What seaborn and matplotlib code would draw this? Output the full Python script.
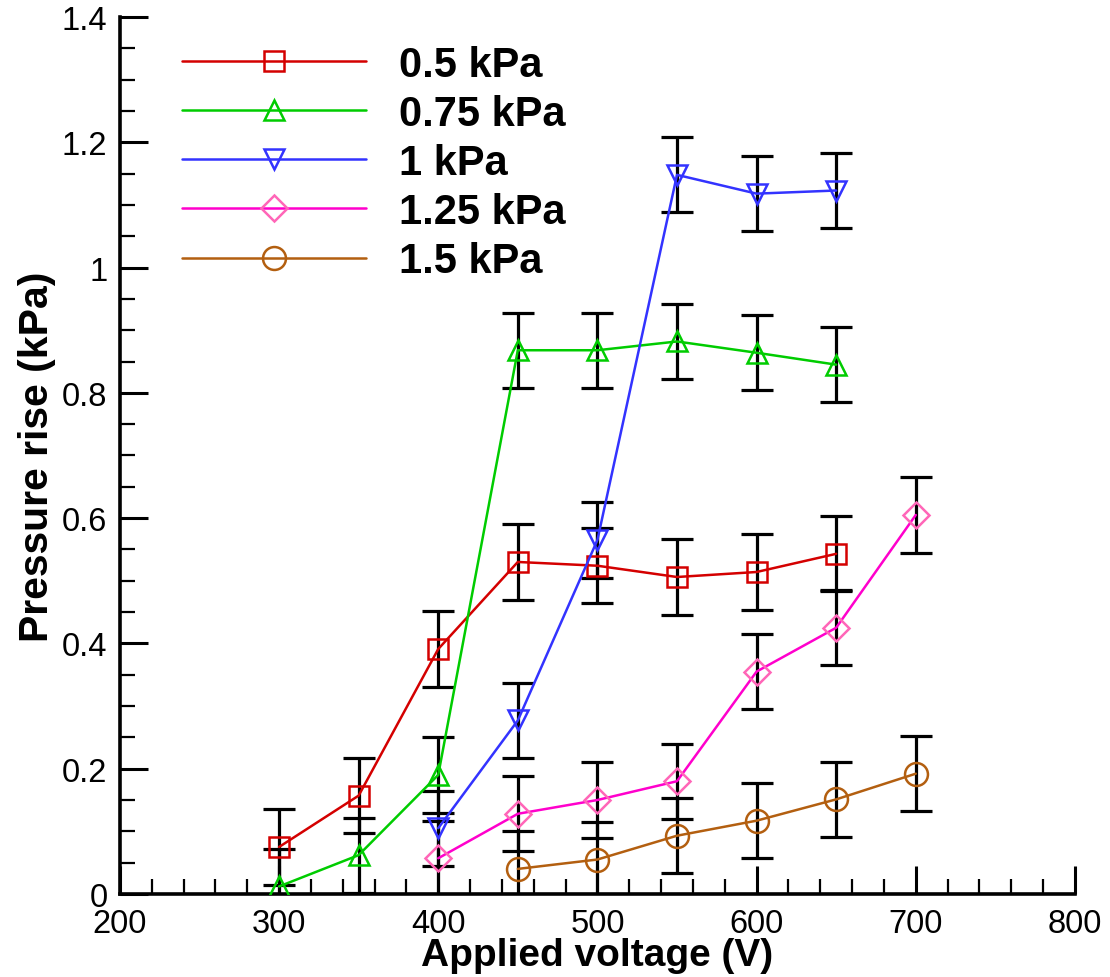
import numpy as np
import pandas as pd
import matplotlib
matplotlib.use("Agg")
import matplotlib.pyplot as plt
from matplotlib.ticker import MultipleLocator
import seaborn as sns

# ---- data ----
labels = ["0.5 kPa", "0.75 kPa", "1 kPa", "1.25 kPa", "1.5 kPa"]

v_05 = [300, 350, 400, 450, 500, 550, 600, 650]
p_05 = [0.075, 0.157, 0.391, 0.530, 0.524, 0.506, 0.514, 0.543]
e_05 = [0.06, 0.06, 0.06, 0.06, 0.06, 0.06, 0.06, 0.06]

v_075 = [300, 350, 400, 450, 500, 550, 600, 650]
p_075 = [0.012, 0.062, 0.190, 0.868, 0.868, 0.882, 0.864, 0.845]
e_075 = [0.06, 0.06, 0.06, 0.06, 0.06, 0.06, 0.06, 0.06]

v_1 = [400, 450, 500, 550, 600, 650]
p_1 = [0.105, 0.277, 0.565, 1.148, 1.118, 1.123]
e_1 = [0.06, 0.06, 0.06, 0.06, 0.06, 0.06]

v_125 = [400, 450, 500, 550, 600, 650, 700]
p_125 = [0.057, 0.128, 0.150, 0.180, 0.355, 0.425, 0.605]
e_125 = [0.06, 0.06, 0.06, 0.06, 0.06, 0.06, 0.06]

v_15 = [450, 500, 550, 600, 650, 700]
p_15 = [0.040, 0.055, 0.093, 0.117, 0.151, 0.192]
e_15 = [0.06, 0.06, 0.06, 0.06, 0.06, 0.06]

x_ticks = [200, 300, 400, 500, 600, 700, 800]
y_ticks = [0, 0.2, 0.4, 0.6, 0.8, 1.0, 1.2, 1.4]
y_ticklabels = ["0", "0.2", "0.4", "0.6", "0.8", "1", "1.2", "1.4"]

series = [
    (labels[0], v_05, p_05, e_05),
    (labels[1], v_075, p_075, e_075),
    (labels[2], v_1, p_1, e_1),
    (labels[3], v_125, p_125, e_125),
    (labels[4], v_15, p_15, e_15),
]

# ---- styles ----
line_colors = ["#d40000", "#00cc00", "#3333ff", "#ff00cc", "#b35f10"]
marker_colors = ["#d40000", "#00cc00", "#3333ff", "#ff66b8", "#b35f10"]
markers = ["s", "^", "v", "D", "o"]
msizes = [14, 15, 15, 13, 16.5]

sns.set_style("ticks")
plt.rcParams["font.family"] = ["Liberation Sans", "DejaVu Sans"]
plt.rcParams["text.color"] = "black"
plt.rcParams["axes.labelcolor"] = "black"
plt.rcParams["xtick.color"] = "black"
plt.rcParams["ytick.color"] = "black"

fig = plt.figure(figsize=(11.1, 9.78), dpi=100)
ax = fig.add_axes([0.108, 0.0849, 0.8604, 0.8967])

rows = []
for lab, v, p, e in series:
    for xi, yi, ei in zip(v, p, e):
        rows.append({"series": lab, "V": xi, "P": yi, "err": ei})
df = pd.DataFrame(rows)

for i, lab in enumerate(labels):
    sub = df[df["series"] == lab]
    ax.errorbar(sub["V"], sub["P"], yerr=sub["err"], fmt="none", ecolor="black",
                elinewidth=2.3, capsize=11.5, capthick=2.3, zorder=2)
    sns.lineplot(data=sub, x="V", y="P", ax=ax, color=line_colors[i],
                 marker=markers[i], markersize=msizes[i], markerfacecolor="none",
                 markeredgecolor=marker_colors[i], markeredgewidth=1.8,
                 linewidth=1.8, label=lab, zorder=3, errorbar=None)

ax.set_xlim(200, 800)
ax.set_ylim(0, 1.4)
ax.set_xticks(x_ticks)
ax.set_yticks(y_ticks)
ax.set_yticklabels(y_ticklabels)
ax.xaxis.set_minor_locator(MultipleLocator(20))
ax.yaxis.set_minor_locator(MultipleLocator(0.05))
ax.tick_params(axis="both", which="major", direction="in", length=20, width=2.2,
               labelsize=23.5, pad=9, colors="black")
ax.tick_params(axis="x", which="major", pad=10)
ax.tick_params(axis="both", which="minor", direction="in", length=11, width=1.6)
for s in ["top", "right"]:
    ax.spines[s].set_visible(False)
for s in ["left", "bottom"]:
    ax.spines[s].set_linewidth(2.6)
    ax.spines[s].set_color("black")

ax.set_xlabel("Applied voltage (V)", fontsize=28, fontweight="bold", labelpad=-1)
ax.set_ylabel("Pressure rise (kPa)", fontsize=29.5, fontweight="bold", labelpad=4)

leg = ax.legend(loc="upper left", bbox_to_anchor=(0.065, 0.9686), frameon=False,
                prop={"size": 30, "weight": "bold"}, handlelength=4.41,
                handletextpad=0.8, labelspacing=0.22, borderaxespad=0, borderpad=0)

fig.savefig("out.png", dpi=100)
